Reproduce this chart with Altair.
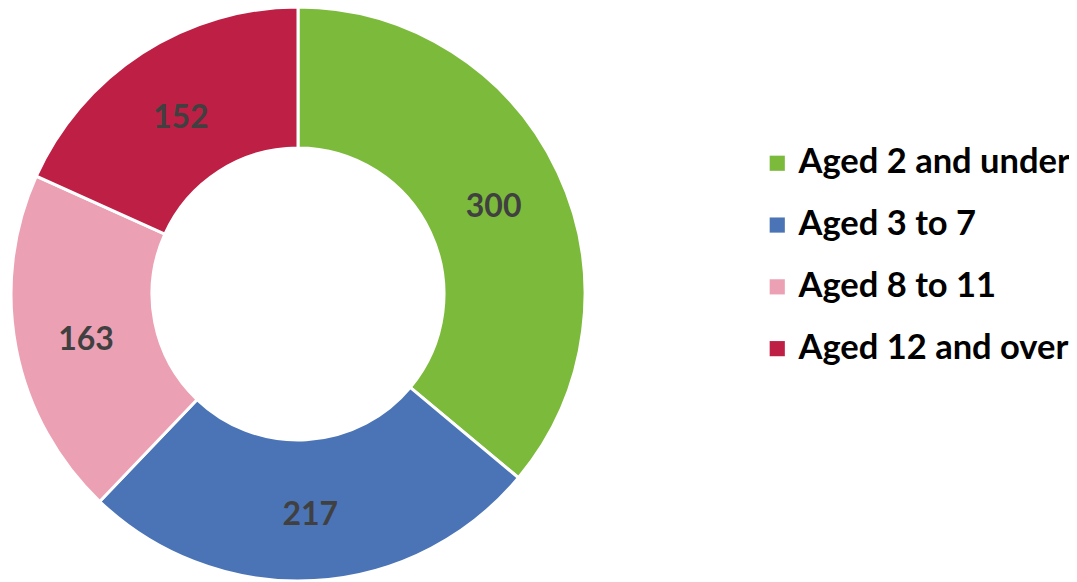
import altair as alt
import pandas as pd

categories = ["Aged 2 and under", "Aged 3 to 7", "Aged 8 to 11", "Aged 12 and over"]
values = [300, 217, 163, 152]
colors = ["#7CBA3C", "#4A74B6", "#ECA0B4", "#BE1F45"]

df = pd.DataFrame({"category": categories, "value": values, "order": list(range(len(values)))})

cx, cy = 290, 286

base = alt.Chart(df).encode(
    theta=alt.Theta("value:Q", stack=True),
    order=alt.Order("order:Q", sort="ascending"),
    x=alt.value(cx),
    y=alt.value(cy),
)

arcs = base.mark_arc(outerRadius=287, innerRadius=146, stroke="white", strokeWidth=3).encode(
    color=alt.Color(
        "category:N",
        scale=alt.Scale(domain=categories, range=colors),
        sort=categories,
        legend=alt.Legend(
            title=None,
            orient="none",
            legendX=752,
            legendY=138,
            symbolType="square",
            symbolSize=230,
            symbolStrokeWidth=0,
            labelFont="Lato",
            labelFontWeight="bold",
            labelFontSize=34.5,
            labelColor="#000000",
            labelLimit=400,
            rowPadding=26.8,
            labelOffset=4,
        ),
    )
)

labels = base.mark_text(radius=216, font="Lato", fontWeight="bold", fontSize=32, color="#404040", dy=5).encode(
    text=alt.Text("value:Q")
)

chart = alt.layer(arcs, labels).properties(
    width=1061, height=574, padding=0, autosize=alt.AutoSizeParams(type="none")
).configure_view(stroke=None)

chart.save("out.html", embed_options={"renderer": "svg", "actions": False})
